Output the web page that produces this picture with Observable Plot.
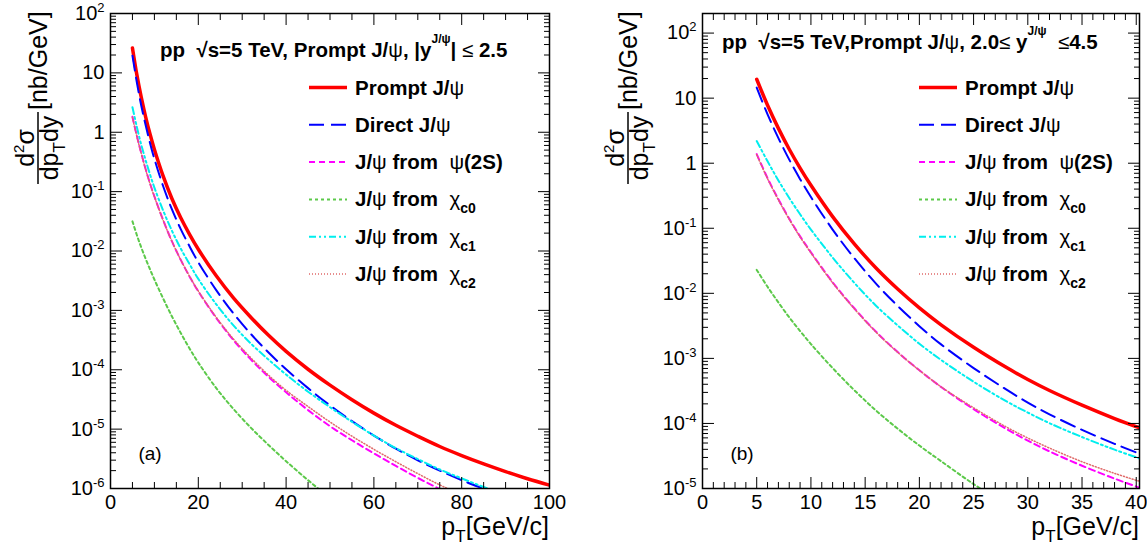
<!DOCTYPE html>
<html><head><meta charset="utf-8">
<script src="https://cdn.jsdelivr.net/npm/d3@7"></script>
<script src="https://cdn.jsdelivr.net/npm/@observablehq/plot@0.6"></script>
<style>
body{margin:0;background:#fff;}
#wrap{position:relative;width:1147px;height:548px;overflow:hidden;font-family:"Liberation Sans",Arial,sans-serif;}
#wrap svg{position:absolute;top:0;}
text{white-space:pre;}
</style></head><body><div id="wrap"></div>
<script>
// ---------------- data: panel (a) |y| <= 2.5 ----------------
const ptA = [5,6,7,8,9,10,12,14,16,18,20,24,28,32,36,40,45,50,55,60,65,70,75,80,85,90,95,100];
const promptA = [26.3,9.33,3.89,1.82,0.933,0.513,0.182,0.0759,0.0363,0.0191,0.0107,0.00389,0.00162,7.6e-4,3.8e-4,2.04e-4,1.02e-4,5.5e-5,3.13e-5,1.86e-5,1.16e-5,7.6e-6,5.1e-6,3.59e-6,2.6e-6,1.93e-6,1.46e-6,1.14e-6];
const directA = [19.5,6.92,2.82,1.32,0.661,0.355,0.123,0.0501,0.0234,0.0120,0.00646,0.00224,8.9e-4,3.98e-4,1.95e-4,1.02e-4,4.9e-5,2.51e-5,1.36e-5,7.8e-6,4.68e-6,2.99e-6,2.0e-6,1.38e-6,9.9e-7,7.2e-7,5.4e-7,4.2e-7];
const psi2sA = [1.82,0.87,0.447,0.24,0.138,0.0832,0.0331,0.0145,0.00708,0.00372,0.00209,7.6e-4,3.16e-4,1.48e-4,7.6e-5,4.17e-5,2.09e-5,1.12e-5,6.5e-6,3.9e-6,2.4e-6,1.51e-6,9.8e-7,6.6e-7,4.6e-7,3.3e-7,2.4e-7,1.8e-7];
const chic0A = [0.0316,0.0186,0.0115,0.00741,0.0049,0.00331,0.00158,7.9e-4,4.17e-4,2.29e-4,1.32e-4,5.0e-5,2.19e-5,1.05e-5,5.4e-6,2.88e-6,1.38e-6,6.9e-7,3.5e-7,null,null,null,null,null,null,null,null,null];
const chic1A = [2.63,1.23,0.617,0.339,0.195,0.117,0.0479,0.0219,0.011,0.00603,0.00339,0.00129,5.6e-4,2.75e-4,1.48e-4,8.3e-5,4.27e-5,2.34e-5,1.33e-5,7.8e-6,4.79e-6,3.13e-6,2.09e-6,1.48e-6,1.06e-6,7.8e-7,5.8e-7,4.5e-7];
const chic2A = [1.78,0.85,0.44,0.235,0.136,0.082,0.0328,0.0145,0.0071,0.00375,0.00212,7.8e-4,3.3e-4,1.58e-4,8.1e-5,4.5e-5,2.4e-5,1.32e-5,7.6e-6,4.57e-6,2.82e-6,1.78e-6,1.15e-6,7.9e-7,5.5e-7,3.9e-7,2.8e-7,2.0e-7];

// ---------------- data: panel (b) 2.0 <= y <= 4.5 ----------------
const ptB = [5,6,7,8,9,10,12,14,16,18,20,22,25,28,30,32,35,38,40.5];
const promptB = [19.5,7.76,3.43,1.64,0.841,0.457,0.151,0.0575,0.0245,0.01164,0.00597,0.00328,0.00148,7.28e-4,4.74e-4,3.21e-4,1.91e-4,1.19e-4,8.35e-5];
const directB = [14.5,5.62,2.43,1.135,0.569,0.302,0.0955,0.0347,0.0141,0.0064,0.00313,0.00164,7.1e-4,3.33e-4,2.09e-4,1.38e-4,7.96e-5,4.86e-5,3.33e-5];
const psi2sB = [1.38,0.589,0.279,0.14,0.075,0.0427,0.0148,0.00589,0.00257,0.00125,6.55e-4,3.64e-4,1.66e-4,8.26e-5,5.44e-5,3.72e-5,2.24e-5,1.42e-5,1.0e-5];
const chic0B = [0.0229,0.0126,0.00724,0.00427,0.00263,0.00166,7.1e-4,3.24e-4,1.58e-4,8.3e-5,4.57e-5,2.63e-5,1.17e-5,5.6e-6,null,null,null,null,null];
const chic1B = [2.19,1.07,0.543,0.292,0.164,0.0955,0.0355,0.0145,0.00646,0.00321,0.00168,9.46e-4,4.38e-4,2.2e-4,1.47e-4,1.01e-4,6.18e-5,3.95e-5,2.83e-5];
const chic2B = [1.35,0.576,0.273,0.137,0.0734,0.0418,0.0145,0.00578,0.00253,0.00124,6.55e-4,3.66e-4,1.74e-4,8.85e-5,5.97e-5,4.18e-5,2.58e-5,1.71e-5,1.26e-5];

// ---------------- ticks / labels ----------------
const xMajorA = [0,20,40,60,80,100];
const xMinorA = [5,10,15,25,30,35,45,50,55,65,70,75,85,90,95];
const xMajorB = [0,5,10,15,20,25,30,35,40];
const xMinorB = d3.range(0,41).filter(v => v % 5 !== 0);
const yMajorA = [1e-6,1e-5,1e-4,1e-3,1e-2,1e-1,1,10,100];
const yMajorB = [1e-5,1e-4,1e-3,1e-2,1e-1,1,10,100];
const seriesNames = ["Prompt", "Direct", "psi2S", "chic0", "chic1", "chic2"];

// ---------------- styles ----------------
const styles = {
  Prompt: {color:"#ff0000", width:3.5, dash:null},
  Direct: {color:"#0000ff", width:2, dash:"15,7"},
  psi2S:  {color:"#ff00ff", width:2, dash:"6,4"},
  chic0:  {color:"#5cc94a", width:2, dash:"3,3"},
  chic1:  {color:"#00eeee", width:2, dash:"7,3,2,3,2,3"},
  chic2:  {color:"#e06a6a", width:1.5, dash:"1,2"}
};
const legendParts = {
  Prompt: [{t:"Prompt J/"},{t:"ψ",w:"normal"}],
  Direct: [{t:"Direct J/"},{t:"ψ",w:"normal"}],
  psi2S:  [{t:"J/"},{t:"ψ",w:"normal"},{t:" from  "},{t:"ψ",w:"normal"},{t:"(2S)"}],
  chic0:  [{t:"J/"},{t:"ψ",w:"normal"},{t:" from  "},{t:"χ",w:"normal"},{t:"c0",size:14,shift:-7}],
  chic1:  [{t:"J/"},{t:"ψ",w:"normal"},{t:" from  "},{t:"χ",w:"normal"},{t:"c1",size:14,shift:-7}],
  chic2:  [{t:"J/"},{t:"ψ",w:"normal"},{t:" from  "},{t:"χ",w:"normal"},{t:"c2",size:14,shift:-7}]
};

function rich(sel, x, y, parts, attrs) {
  const t = sel.append("text").attr("x", x).attr("y", y).attr("text-anchor", "start");
  for (const k in attrs) t.attr(k, attrs[k]);
  let prev = 0;
  for (const p of parts) {
    const o = -(p.shift || 0);
    const ts = t.append("tspan").attr("dy", o - prev).text(p.t);
    prev = o;
    if (p.w) ts.attr("font-weight", p.w);
    if (p.size) ts.attr("font-size", p.size);
  }
  return t;
}

function yFmt(d) {
  if (d === 1) return "1";
  if (d === 10) return "10";
  return "10^" + Math.round(Math.log10(d));
}

function panel(cfg) {
  const marks = [];
  cfg.series.forEach((vals, i) => {
    const s = styles[seriesNames[i]];
    const data = cfg.pt.map((p, j) => ({pt: p, v: vals[j]}));
    marks.push(Plot.line(data, {x: "pt", y: "v", stroke: s.color, strokeWidth: s.width,
      strokeDasharray: s.dash, curve: "catmull-rom", clip: true}));
  });
  const yMinor = [];
  cfg.yMajor.forEach(d => { for (let k = 2; k <= 9; k++) if (d*k <= cfg.yDomain[1]) yMinor.push(d*k); });
  const tk = {fill: "none", stroke: "black", strokeWidth: 1, label: null};
  marks.push(
    Plot.axisX({anchor: "bottom", ticks: cfg.xMajor, tickSize: 11, dy: -11, ...tk}),
    Plot.axisX({anchor: "bottom", ticks: cfg.xMinor, tickSize: 6, dy: -6, ...tk}),
    Plot.axisX({anchor: "top", ticks: cfg.xMajor, tickSize: 11, dy: 11, ...tk}),
    Plot.axisX({anchor: "top", ticks: cfg.xMinor, tickSize: 6, dy: 6, ...tk}),
    Plot.axisY({anchor: "left", ticks: cfg.yMajor, tickSize: 12, dx: 12, ...tk}),
    Plot.axisY({anchor: "left", ticks: yMinor, tickSize: 6, dx: 6, ...tk}),
    Plot.axisY({anchor: "right", ticks: cfg.yMajor, tickSize: 12, dx: -12, ...tk}),
    Plot.axisY({anchor: "right", ticks: yMinor, tickSize: 6, dx: -6, ...tk}),
    Plot.axisX({anchor: "bottom", ticks: cfg.xMajor, tickSize: 0, tickPadding: 6, tickFormat: d => String(d), fontSize: 20, label: null}),
    Plot.axisY({anchor: "left", ticks: cfg.yMajor, tickSize: 0, tickPadding: 6, tickFormat: yFmt, fontSize: 20, label: null}),
    Plot.frame({stroke: "black", strokeWidth: 1.5})
  );
  const svgEl = Plot.plot({
    width: cfg.width, height: 548,
    marginLeft: cfg.marginLeft, marginRight: cfg.marginRight, marginTop: 13, marginBottom: 60,
    x: {domain: cfg.xDomain},
    y: {type: "log", domain: cfg.yDomain},
    style: {fontFamily: '"Liberation Sans", Arial, sans-serif', fontSize: "20px", background: "white", color: "black", overflow: "visible"},
    marks
  });
  const svg = d3.select(svgEl);
  svg.selectAll('g[aria-label="y-axis tick label"] text').each(function() {
    const el = d3.select(this);
    const m = el.text().match(/^10\^(.+)$/);
    if (m) {
      el.text("");
      el.append("tspan").text("10");
      el.append("tspan").attr("dy", -8).attr("font-size", 13).text(m[1]);
    }
  });
  const L = cfg.marginLeft, R = cfg.width - cfg.marginRight;
  const font = '"Liberation Sans", Arial, sans-serif';
  rich(svg, cfg.header.x, cfg.header.y, cfg.header.parts, {"font-family": font, "font-size": 20.5, "font-weight": "bold", fill: "black"});
  seriesNames.forEach((n, i) => {
    const s = styles[n];
    const yy = 87.5 + i * 37.3;
    svg.append("line").attr("x1", cfg.legX).attr("x2", cfg.legX + 38).attr("y1", yy).attr("y2", yy)
      .attr("stroke", s.color).attr("stroke-width", s.width).attr("stroke-dasharray", s.dash);
    rich(svg, cfg.legX + 46, yy + 7, legendParts[n], {"font-family": font, "font-size": 20.5, "font-weight": "bold", fill: "black"});
  });
  svg.append("text").attr("x", L + 40).attr("y", 460).attr("text-anchor", "middle")
    .attr("font-family", font).attr("font-size", 19).text(cfg.tag);
  rich(svg, R, 535, [{t:"p"},{t:"T",size:17,shift:-7},{t:"[GeV/c]"}], {"font-family": font, "font-size": 25, "text-anchor": "end", fill: "black"});
  const g = svg.append("g").attr("transform", `translate(${cfg.titleX},148) rotate(-90)`)
    .attr("font-family", font).attr("font-size", 25).attr("fill", "black");
  rich(g, 0, -4, [{t:"d"},{t:"2",size:15,shift:10},{t:"σ"}], {"text-anchor": "middle"});
  g.append("line").attr("x1", -36).attr("x2", 36).attr("y1", 0).attr("y2", 0).attr("stroke", "black").attr("stroke-width", 1.5);
  rich(g, 0, 20, [{t:"dp"},{t:"T",size:17,shift:-7},{t:"dy"}], {"text-anchor": "middle"});
  rich(g, 38, 9, [{t:"[nb/GeV]"}], {"text-anchor": "start"});
  return svgEl;
}

const wrap = document.getElementById("wrap");
const a = panel({
  pt: ptA, series: [promptA, directA, psi2sA, chic0A, chic1A, chic2A],
  xDomain: [0, 100], yDomain: [1e-6, 1e2], xMajor: xMajorA, xMinor: xMinorA, yMajor: yMajorA,
  width: 574, marginLeft: 110, marginRight: 25, legX: 309, titleX: 38, tag: "(a)",
  header: {x: 160, y: 57, parts: [{t:"pp  "},{t:"√s=5 TeV, Prompt J/"},{t:"ψ",w:"normal"},{t:", |y"},{t:"J/ψ",size:12,shift:14},{t:"| "},{t:"≤",w:"normal"},{t:" 2.5"}]}
});
a.style.left = "0px";
wrap.appendChild(a);
const b = panel({
  pt: ptB, series: [promptB, directB, psi2sB, chic0B, chic1B, chic2B],
  xDomain: [0, 40.3], yDomain: [1e-5, 200], xMajor: xMajorB, xMinor: xMinorB, yMajor: yMajorB,
  width: 573, marginLeft: 128, marginRight: 8, legX: 345, titleX: 54, tag: "(b)",
  header: {x: 148, y: 49, parts: [{t:"pp  "},{t:"√s=5 TeV,Prompt J/"},{t:"ψ",w:"normal"},{t:", 2.0"},{t:"≤",w:"normal"},{t:" y"},{t:"J/ψ",size:12,shift:14},{t:"  "},{t:"≤",w:"normal"},{t:"4.5"}]}
});
b.style.left = "574px";
wrap.appendChild(b);
</script></body></html>
